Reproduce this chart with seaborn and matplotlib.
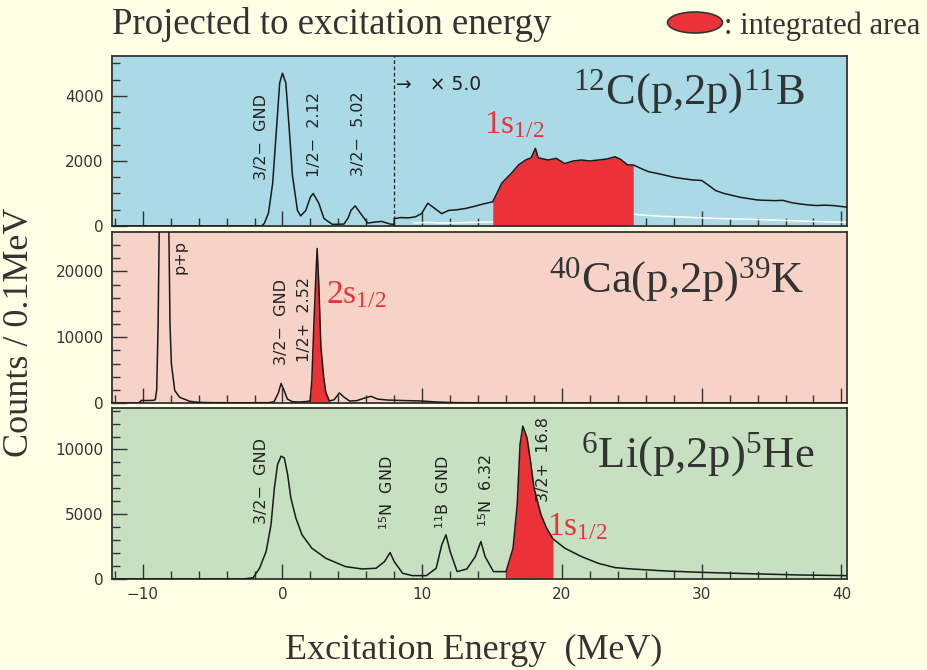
import numpy as np
import pandas as pd
import seaborn as sns
import matplotlib
matplotlib.use("Agg")
import matplotlib.pyplot as plt
from matplotlib.patches import Ellipse

# ---------------- data ----------------
# 12C(p,2p)11B  (values right of 8 MeV already shown x5)
c_e = [-12.2, -1.5, -1.3, -1.0, -0.7, -0.45, -0.2, 0.0, 0.24, 0.48, 0.71, 1.07, 1.3, 1.67,
       2.0, 2.2, 2.6, 2.97, 3.57, 4.4, 4.7, 4.9, 5.2, 5.6, 6.1, 6.6, 7.1, 7.7, 7.99,
       8.0, 8.5, 9.0, 9.5, 9.95, 10.4, 10.9, 11.4, 11.9, 12.5, 13.1, 13.7, 14.3, 15.0,
       15.05, 15.7, 16.4, 16.9, 17.4, 17.8, 18.1, 18.3, 19.0, 19.6, 20.2, 20.8, 21.4,
       22.0, 22.6, 23.2, 23.8, 24.2, 24.7, 25.1, 25.6, 26.2, 26.8, 27.4, 28.0, 28.6,
       29.3, 30.0, 30.5, 31.0, 31.6, 32.2, 32.8, 33.4, 34.0, 34.6, 35.2, 35.8, 36.4,
       37.0, 37.6, 38.2, 38.8, 39.4, 40.4]
c_v = [0, 0, 80, 400, 1320, 2860, 4400, 4700, 4400, 3000, 1570, 480, 310, 480,
       890, 1000, 700, 230, 50, 60, 250, 480, 620, 380, 90, 120, 140, 60, 50,
       230, 260, 250, 280, 380, 700, 540, 380, 480, 500, 540, 600, 670, 740,
       750, 1320, 1630, 1880, 2030, 2100, 2390, 2100, 2030, 2080, 1920, 2000, 2030,
       2000, 2030, 2060, 2130, 2050, 1880, 1880, 1780, 1670, 1620, 1560, 1500, 1460,
       1420, 1400, 1250, 1090, 1000, 940, 880, 840, 800, 790, 780, 790, 720,
       680, 650, 630, 640, 630, 580]
c_bg_e = [9.4, 10.5, 11.5, 12.5, 13.5, 14.5, 15.05, 25.1, 26.0, 27.0, 28.5, 30.0, 32.0, 34.0, 36.0, 38.0, 40.4]
c_bg_v = [100, 110, 90, 100, 110, 120, 120, 360, 330, 300, 280, 250, 220, 200, 170, 140, 110]
c_area = (15.05, 25.1)

# 40Ca(p,2p)39K
ca_e = [-12.2, -10.3, -10.1, -9.6, -9.26, -9.1, -9.0, -8.9, -8.8, -8.5, -8.15, -8.05, -7.95,
        -7.71, -7.36, -6.64, -6.0, -5.0, -3.0, -1.0, -0.6, -0.3, -0.1, 0.1, 0.35, 0.7, 1.2,
        1.6, 1.98, 2.1, 2.25, 2.4, 2.48, 2.6, 2.75, 2.95, 3.1, 3.36, 3.7, 4.07, 4.4, 4.8,
        5.3, 5.8, 6.33, 6.8, 7.5, 8.5, 10.0, 11.0, 12.5, 15.0, 40.4]
ca_v = [0, 0, 380, 380, 400, 500, 2000, 12000, 30000, 45000, 30000, 12000, 5960,
        1890, 870, 260, 100, 50, 30, 50, 200, 1500, 2970, 2000, 600, 200, 150,
        200, 300, 3420, 12100, 19800, 23500, 18000, 8540, 3890, 1630, 300, 500, 1530, 900, 300,
        350, 700, 1020, 600, 450, 380, 300, 150, 50, 20, 0]
ca_area = (1.98, 3.36)

# 6Li(p,2p)5He
li_e = [-12.2, -2.8, -2.1, -1.64, -1.17, -0.82, -0.58, -0.35, -0.1, 0.13, 0.37, 0.6, 0.96,
        1.4, 2.1, 3.1, 4.5, 5.7, 6.7, 7.3, 7.7, 8.0, 8.6, 9.3, 10.3, 11.0, 11.4, 11.7, 12.0,
        12.5, 13.2, 13.8, 14.2, 14.5, 15.1, 16.0, 16.5, 16.8, 17.0, 17.2, 17.5, 17.75, 18.0,
        18.5, 18.9, 19.36, 20.2, 21.4, 22.6, 23.8, 25.0, 27.4, 29.8, 33.4, 37.0, 40.4]
li_v = [0, 0, 100, 830, 2120, 4190, 7030, 8840, 9480, 9350, 8060, 6250, 4700,
        3410, 2380, 1600, 960, 775, 830, 1340, 2040, 1340, 440, 260, 260, 830, 2640, 3410, 2120,
        570, 775, 1730, 2890, 1730, 570, 570, 2380, 5740, 10400, 11800, 10900, 9100, 7030,
        4960, 3930, 3100, 2380, 1730, 1210, 880, 775, 620, 520, 410, 310, 260]
li_area = (16.0, 19.36)

x_ticks = [-10, 0, 10, 20, 30, 40]

# ---------------- style ----------------
sns.set_style("ticks")
plt.rcParams["font.family"] = ["DejaVu Sans"]
plt.rcParams["mathtext.fontset"] = "custom"
plt.rcParams["mathtext.rm"] = "Liberation Serif"
plt.rcParams["mathtext.it"] = "Liberation Serif:italic"
plt.rcParams["mathtext.sf"] = "DejaVu Sans"

W, H = 927, 670
fig = plt.figure(figsize=(W / 100, H / 100), dpi=100)
BG = "#FFFFE6"
fig.patch.set_facecolor(BG)
RED = "#EC3239"
LINE = "#1a1a1a"
SERIF = "Liberation Serif"


def add_ax(top, bottom, color):
    ax = fig.add_axes([112 / W, 1 - bottom / H, (847 - 112) / W, (bottom - top) / H])
    ax.set_facecolor(color)
    for s in ax.spines.values():
        s.set_color("#333333")
        s.set_linewidth(1.3)
    ax.set_xlim(-12.2, 40.4)
    ax.set_xticks(x_ticks)
    ax.set_xticks(np.arange(-12, 41, 2), minor=True)
    ax.tick_params(axis="both", which="both", direction="in", colors="#333333",
                   labelcolor="#333333", labelsize=11)
    ax.tick_params(axis="both", which="major", length=11, width=1)
    ax.tick_params(axis="both", which="minor", length=6, width=1)
    ax.tick_params(axis="y", pad=6)
    ax.tick_params(axis="x", pad=6)
    return ax


def draw(ax, e, v, area):
    df = pd.DataFrame({"E": e, "N": v})
    m = (df.E >= area[0]) & (df.E <= area[1])
    ax.fill_between(df.E[m], 0, df.N[m], color=RED, lw=0, zorder=2)
    sns.lineplot(data=df, x="E", y="N", ax=ax, color=LINE, lw=1.1, estimator=None,
                 sort=False, zorder=3)
    ax.set_xlabel("")
    ax.set_ylabel("")


# top panel
ax1 = add_ax(56, 226, "#AADAE6")
sns.lineplot(x=c_bg_e, y=c_bg_v, ax=ax1, color="white", lw=1.1, estimator=None, sort=False, zorder=1)
draw(ax1, c_e, c_v, c_area)
ax1.set_ylim(0, 5230)
ax1.set_yticks([0, 2000, 4000])
ax1.set_yticks(np.arange(0, 5300, 500), minor=True)
ax1.axvline(8.0, color="#222", lw=0.9, ls=(0, (3, 2)), zorder=4)
ax1.tick_params(axis="x", labelbottom=False)

# middle panel
ax2 = add_ax(232, 403, "#F6D3C6")
draw(ax2, ca_e, ca_v, ca_area)
ax2.set_ylim(0, 26000)
ax2.set_yticks([0, 10000, 20000])
ax2.set_yticks(np.arange(0, 26000, 2000), minor=True)
ax2.tick_params(axis="x", labelbottom=False)

# bottom panel
ax3 = add_ax(408, 579, "#C6E0C1")
draw(ax3, li_e, li_v, li_area)
ax3.set_ylim(0, 13200)
ax3.set_yticks([0, 5000, 10000])
ax3.set_yticks(np.arange(0, 13200, 1000), minor=True)
ax3.set_xticklabels(["\u221210", "0", "10", "20", "30", "40"])

# ---------------- annotations ----------------
lab = dict(rotation=90, ha="center", va="center", fontsize=11.5, color="#222", zorder=5)
ax1.text(-1.48, 2750, "3/2\u2212  GND", **lab)
ax1.text(2.29, 2830, "1/2\u2212  2.12", **lab)
ax1.text(5.43, 2850, "3/2\u2212  5.02", **lab)
ax1.text(8.15, 4360, "\u2192   \u00d7 5.0", ha="left", va="center", fontsize=13.5, color="#222")

ax2.text(-7.35, 22150, "p+p", **lab)
ax2.text(-0.05, 12300, "3/2\u2212  GND", **lab)
ax2.text(1.6, 12650, "1/2+  2.52", **lab)

ax3.text(-1.48, 7600, "3/2\u2212  GND", **lab)
ax3.text(7.46, 6670, "$^{\\mathsf{15}}$N  GND", **lab)
ax3.text(11.5, 6670, "$^{\\mathsf{11}}$B  GND", **lab)
ax3.text(14.57, 6840, "$^{\\mathsf{15}}$N  6.32", **lab)
ax3.text(18.7, 9220, "3/2+  16.8", **lab)

red = dict(ha="left", va="center", fontsize=24, color=RED, family=SERIF, zorder=6)
ax1.text(14.4, 3100, "1s$_{1/2}$", **red)
ax2.text(3.1, 16450, "2s$_{1/2}$", **red)
ax3.text(18.9, 4030, "1s$_{1/2}$", **red)

big = dict(ha="center", va="center", fontsize=32, color="#333", family=SERIF, zorder=6)
ax1.text(29.1, 4120, "$^{12}$C(p,2p)$^{11}$B", **big)
ax2.text(28.2, 18770, "$^{40}$Ca(p,2p)$^{39}$K", **big)
ax3.text(29.7, 9610, "$^{6}$Li(p,2p)$^{5}$He", **big)

# header, legend and axis titles
fig.text(112 / W, 1 - 25 / H, "Projected to excitation energy", ha="left", va="center",
         fontsize=26.5, family=SERIF, color="#333")
fig.patches.append(Ellipse((695 / W, 1 - 22.5 / H), 55 / W, 21 / H, transform=fig.transFigure,
                           facecolor=RED, edgecolor="#333", lw=1.2))
fig.text(724 / W, 1 - 26 / H, ": integrated area", ha="left", va="center",
         fontsize=22, family=SERIF, color="#333")
fig.text(20 / W, 1 - 332 / H, "Counts / 0.1MeV", rotation=90, ha="center",
         va="center", fontsize=26, family=SERIF, color="#333")
fig.text(474 / W, 1 - 650 / H, "Excitation Energy  (MeV)", ha="center", va="center",
         fontsize=26, family=SERIF, color="#333")

fig.savefig("out.png", dpi=100, facecolor=BG)
